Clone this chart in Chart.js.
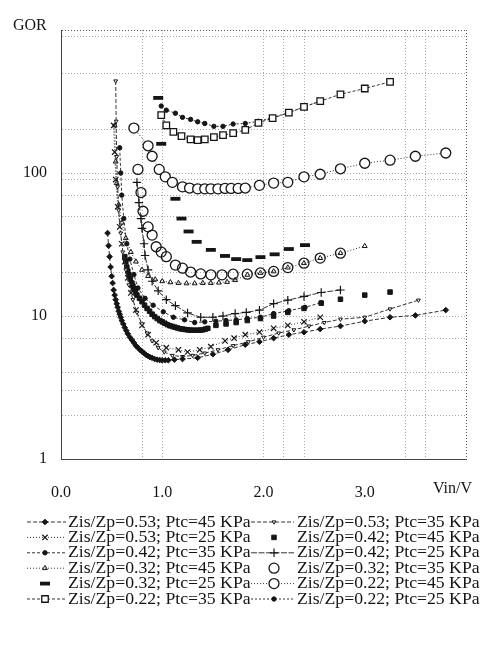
<!DOCTYPE html>
<html>
<head>
<meta charset="utf-8">
<script src="https://cdn.jsdelivr.net/npm/chart.js@4.4.1/dist/chart.umd.min.js"></script>
<style>
  html, body { margin: 0; padding: 0; background: #fff; }
  #wrap { width: 490px; height: 664px; position: relative; }
</style>
</head>
<body>
<div id="wrap"><canvas id="gorChart" width="490" height="664"></canvas></div>
<script>
// GOR vs Vin

// legend labels (row by row, left column first)
const seriesLabels = [
    'Zis/Zp=0.53; Ptc=45 KPa', 'Zis/Zp=0.53; Ptc=35 KPa',
    'Zis/Zp=0.53; Ptc=25 KPa', 'Zis/Zp=0.42; Ptc=45 KPa',
    'Zis/Zp=0.42; Ptc=35 KPa', 'Zis/Zp=0.42; Ptc=25 KPa',
    'Zis/Zp=0.32; Ptc=45 KPa', 'Zis/Zp=0.32; Ptc=35 KPa',
    'Zis/Zp=0.32; Ptc=25 KPa', 'Zis/Zp=0.22; Ptc=45 KPa',
    'Zis/Zp=0.22; Ptc=35 KPa', 'Zis/Zp=0.22; Ptc=25 KPa'
];

const vin_053_45 = [0.46,0.47,0.48,0.49,0.50,0.51,0.52,0.53,0.54,0.55,0.56,0.57,0.58,0.59,0.60,0.615,0.63,0.645,0.66,0.68,0.70,0.72,0.74,0.76,0.78,0.80,0.82,0.84,0.86,0.88,0.90,0.925,0.95,0.975,1.00,1.03,1.06,1.12,1.20,1.35,1.50,1.65,1.82,1.96,2.10,2.25,2.40,2.56,2.76,3.00,3.25,3.50,3.80];
const gor_053_45 = [38,31,26,22,19,17,15.2,14,13,12.2,11.5,10.8,10.3,9.8,9.3,8.8,8.3,7.9,7.5,7.1,6.8,6.5,6.2,6.0,5.8,5.65,5.5,5.35,5.25,5.15,5.1,5.0,4.95,4.92,4.9,4.9,4.9,4.95,5.0,5.1,5.4,5.8,6.3,6.6,7.0,7.4,7.7,8.1,8.5,9.2,9.8,10.1,11];

const vin_053_35 = [0.54,0.545,0.55,0.56,0.57,0.59,0.61,0.64,0.67,0.71,0.75,0.80,0.85,0.90,0.96,1.02,1.10,1.20,1.30,1.42,1.55,1.70,1.85,2.00,2.15,2.30,2.45,2.60,2.76,3.00,3.25,3.53];
const gor_053_35 = [440,230,130,80,55,38,28,21,16.5,13,10.6,8.8,7.6,6.7,6.0,5.6,5.3,5.2,5.3,5.5,5.8,6.2,6.6,7.1,7.6,8.0,8.5,9.0,9.5,9.8,11.2,12.9];

const vin_053_25 = [0.52,0.53,0.54,0.56,0.58,0.60,0.63,0.66,0.69,0.74,0.80,0.86,0.94,1.04,1.16,1.25,1.37,1.48,1.62,1.71,1.82,1.96,2.10,2.24,2.40,2.56];
const gor_053_25 = [215,140,90,58,42,32,24,18.5,14.5,11,8.6,7.4,6.5,6.0,5.8,5.6,5.8,6.1,6.7,7.0,7.4,7.7,8.2,8.6,9.1,9.8];

const vin_042_45 = [0.63,0.64,0.65,0.66,0.67,0.685,0.70,0.71,0.72,0.735,0.75,0.775,0.80,0.825,0.85,0.875,0.90,0.925,0.95,0.975,1.00,1.025,1.05,1.075,1.10,1.125,1.15,1.175,1.20,1.225,1.25,1.275,1.30,1.325,1.35,1.375,1.40,1.425,1.45,1.53,1.63,1.73,1.84,1.97,2.10,2.24,2.40,2.57,2.76,3.00,3.25];
const gor_042_45 = [26,24,22,20.6,19.4,18.2,17,16.2,15.5,14.7,14,13.3,12.6,11.9,11.3,10.8,10.3,9.9,9.6,9.3,9.1,8.9,8.7,8.55,8.45,8.35,8.25,8.15,8.1,8.05,8.0,7.97,7.95,7.95,7.95,7.97,8.0,8.1,8.2,8.6,8.8,9.0,9.3,9.6,10.0,10.6,11.3,12.3,13.1,14.0,14.7];

const vin_042_35 = [0.58,0.59,0.60,0.62,0.65,0.68,0.72,0.76,0.83,0.91,1.01,1.11,1.22,1.32,1.42,1.53,1.63,1.73,1.84,1.97,2.10,2.25,2.41,2.57];
const gor_042_35 = [150,100,70,48,32,25,19.5,15.7,13.3,11.9,10.7,9.8,9.4,9.0,9.1,9.2,9.3,9.4,9.6,9.8,10.4,10.9,11.5,12.4];

const vin_042_25 = [0.75,0.77,0.79,0.80,0.82,0.83,0.86,0.90,0.96,1.04,1.13,1.25,1.38,1.50,1.60,1.72,1.83,1.96,2.10,2.24,2.40,2.57,2.76];
const gor_042_25 = [86,62,48,41,32,26.5,21,17.5,15,13,11.8,10.5,9.8,9.8,10.0,10.4,10.6,11.0,12.2,12.9,13.7,14.6,15.2];

const vin_032_45 = [0.53,0.54,0.55,0.57,0.60,0.64,0.69,0.74,0.80,0.86,0.93,1.00,1.08,1.16,1.24,1.32,1.40,1.48,1.56,1.64,1.72,1.84,1.97,2.10,2.24,2.40,2.56,2.76,3.00];
const gor_032_45 = [215,120,85,60,45,35,28,24,21,19,18,17.5,17.2,17.0,16.9,16.9,17.0,17.0,17.1,17.3,17.8,19.4,20,20.5,21.8,23.4,25.4,27.5,30.8];

const vin_032_35 = [0.76,0.79,0.81,0.86,0.90,0.94,0.99,1.04,1.13,1.20,1.28,1.38,1.48,1.59,1.70,1.84,1.97,2.10,2.24,2.40,2.56,2.76];
const gor_032_35 = [106,73,54,42,36.8,30.5,28,26,22.7,21.6,20.3,19.7,19.4,19.4,19.6,19.6,20,20.5,21.8,23.4,25.4,27.5];

const vin_032_25 = [0.96,0.99,1.13,1.19,1.26,1.34,1.48,1.62,1.73,1.84,1.97,2.11,2.25,2.41];
const gor_032_25 = [335,160,66,48,39,33,29,26.3,25,24.6,25.8,27,29.4,31.3];

const vin_022_45 = [0.72,0.86,0.90,0.97,1.03,1.10,1.20,1.27,1.35,1.42,1.48,1.55,1.62,1.68,1.75,1.82,1.96,2.10,2.24,2.40,2.56,2.76,3.00,3.25,3.50,3.80];
const gor_022_45 = [206,155,131,106,94,86,80,78.5,77.5,77.5,77.5,77.5,78,78,78,78.5,82,85,86,94,98,107,117,123,131,138];

const vin_022_35 = [0.99,1.04,1.11,1.19,1.28,1.35,1.42,1.51,1.60,1.70,1.82,1.95,2.09,2.25,2.40,2.56,2.76,3.00,3.25];
const gor_022_35 = [254,215,194,181,172,170,172,178,184,190,200,224,242,264,290,318,355,390,434];

const vin_022_25 = [0.99,1.04,1.13,1.20,1.28,1.35,1.42,1.51,1.60,1.70,1.82,1.95,2.09,2.25,2.40,2.56];
const gor_022_25 = [294,275,262,245,237,228,222,212,212,220,222,230,245,264,290,318];

// axis ticks / grid positions
const xGrid = [0, 0.8, 1, 2, 2.2, 2.4, 3, 3.4, 3.6, 4];
const xLabelled = [0, 1, 2, 3];
const yGrid = [1, 2, 3, 4, 7, 10, 20, 50, 70, 90, 100, 200, 500, 900, 1000];
const yLabelled = [1, 10, 100];

const INK = '#151515';
const LINE = '#333';
const FONT = '"Liberation Serif", "DejaVu Serif", serif';

function series(label, xs, ys, opts) {
    return Object.assign({
        label: label,
        data: xs.map((x, i) => ({x: x, y: ys[i]})),
        showLine: false,
        borderColor: LINE,
        borderWidth: 1,
        pointBorderColor: INK,
        pointBackgroundColor: INK,
        pointBorderWidth: 1,
        pointRadius: 3,
        tension: 0
    }, opts);
}

const datasets = [
    series(seriesLabels[0], vin_053_45, gor_053_45, {showLine: true, borderDash: [4, 2], pointStyle: 'rectRot', pointRadius: 2.8}),
    series(seriesLabels[1], vin_053_35, gor_053_35, {showLine: true, borderDash: [4, 2], pointStyle: 'triangle', pointRotation: 180, pointRadius: 2.2, pointBackgroundColor: '#fff'}),
    series(seriesLabels[2], vin_053_25, gor_053_25, {showLine: true, borderDash: [1, 2], pointStyle: 'crossRot', pointRadius: 3.8, pointBorderWidth: 1.2}),
    series(seriesLabels[3], vin_042_45, gor_042_45, {pointStyle: 'rect', pointRadius: 3.2}),
    series(seriesLabels[4], vin_042_35, gor_042_35, {showLine: true, borderDash: [3, 2], pointStyle: 'circle', pointRadius: 2.2}),
    series(seriesLabels[5], vin_042_25, gor_042_25, {showLine: true, borderDash: [6, 1.5], pointStyle: 'cross', pointRadius: 4.2, pointBorderWidth: 1.2}),
    series(seriesLabels[6], vin_032_45, gor_032_45, {showLine: true, borderDash: [1, 2], pointStyle: 'triangle', pointRadius: 2.8, pointBackgroundColor: 'rgba(0,0,0,0)'}),
    series(seriesLabels[7], vin_032_35, gor_032_35, {pointStyle: 'circle', pointRadius: 5, pointBackgroundColor: 'rgba(0,0,0,0)', pointBorderWidth: 1.3}),
    series(seriesLabels[8], vin_032_25, gor_032_25, {pointStyle: 'line', pointRadius: 5, pointBorderWidth: 3.8}),
    series(seriesLabels[9], vin_022_45, gor_022_45, {showLine: true, borderDash: [1, 2], pointStyle: 'circle', pointRadius: 5, pointBackgroundColor: '#fff', pointBorderWidth: 1.3}),
    series(seriesLabels[10], vin_022_35, gor_022_35, {showLine: true, borderDash: [3, 2], pointStyle: 'rect', pointRadius: 4.6, pointBackgroundColor: '#fff', pointBorderWidth: 1.3}),
    series(seriesLabels[11], vin_022_25, gor_022_25, {showLine: true, borderDash: [2, 2], pointStyle: 'circle', pointRadius: 2.2})
];

// legend marker, same shapes as the plotted points
function marker(ctx, ds, x, y) {
    const opts = {
        pointStyle: ds.pointStyle || 'circle',
        radius: ds.pointRadius,
        rotation: ds.pointRotation || 0,
        borderWidth: ds.pointBorderWidth
    };
    ctx.fillStyle = ds.pointBackgroundColor;
    ctx.strokeStyle = ds.pointBorderColor;
    ctx.lineWidth = ds.pointBorderWidth;
    if (Chart.helpers && Chart.helpers.drawPoint) {
        Chart.helpers.drawPoint(ctx, opts, x, y);
    } else {
        ctx.beginPath();
        ctx.arc(x, y, ds.pointRadius, 0, Math.PI * 2);
        ctx.fill();
        ctx.stroke();
    }
}

const extraText = {
    id: 'extraText',
    afterDraw(chart) {
        const ctx = chart.ctx;
        ctx.save();
        ctx.fillStyle = INK;
        ctx.textBaseline = 'middle';
        ctx.textAlign = 'left';
        ctx.font = '16px ' + FONT;
        ctx.fillText('GOR', 13, 26);
        ctx.fillText('Vin/V', 433, 489);

        // two-column legend
        const cols = [
            {x1: 27, x2: 66, mx: 45, tx: 68},
            {x1: 251, x2: 294, mx: 274, tx: 297}
        ];
        chart.data.datasets.forEach((ds, i) => {
            const c = cols[i % 2];
            const y = 522 + Math.floor(i / 2) * 15.4;
            if (ds.showLine) {
                ctx.save();
                ctx.strokeStyle = LINE;
                ctx.lineWidth = 1;
                ctx.setLineDash(ds.borderDash || []);
                ctx.beginPath();
                ctx.moveTo(c.x1, y);
                ctx.lineTo(c.x2, y);
                ctx.stroke();
                ctx.restore();
            }
            ctx.save();
            marker(ctx, ds, c.mx, y);
            ctx.restore();
            ctx.font = '17.7px ' + FONT;
            ctx.fillStyle = INK;
            ctx.fillText(ds.label, c.tx, y);
        });
        ctx.restore();
    }
};

const ctx = document.getElementById('gorChart');
const gorChart = new Chart(ctx, {
    type: 'scatter',
    data: { datasets: datasets },
    options: {
        responsive: false,
        animation: false,
        events: [],
        devicePixelRatio: 1,
        layout: { padding: { left: 0, top: 30, right: 21, bottom: 165 } },
        plugins: {
            legend: { display: false },
            tooltip: { enabled: false }
        },
        scales: {
            x: {
                type: 'linear',
                min: 0,
                max: 4,
                afterBuildTicks: (scale) => { scale.ticks = xGrid.map(v => ({value: v})); },
                afterFit: (scale) => { scale.height = 40; },
                ticks: {
                    autoSkip: false,
                    maxRotation: 0,
                    padding: 24,
                    color: INK,
                    font: { family: FONT, size: 16 },
                    callback: (v) => xLabelled.includes(v) ? v.toFixed(1) : ''
                },
                grid: {
                    drawTicks: false,
                    color: (c) => {
                        const v = c.tick ? c.tick.value : null;
                        if (v === 4) return '#555';
                        if (v === 0 || v === 3) return 'rgba(0,0,0,0)';
                        return '#a8a8a8';
                    }
                },
                border: { display: true, color: '#444', dash: [1, 2], width: 1 }
            },
            y: {
                type: 'logarithmic',
                min: 1,
                max: 1000,
                afterBuildTicks: (scale) => { scale.ticks = yGrid.map(v => ({value: v})); },
                afterFit: (scale) => { scale.width = 61; },
                ticks: {
                    autoSkip: false,
                    padding: 14,
                    color: INK,
                    font: { family: FONT, size: 16 },
                    callback: (v) => yLabelled.includes(v) ? String(v) : ''
                },
                grid: {
                    drawTicks: false,
                    color: (c) => {
                        const v = c.tick ? c.tick.value : null;
                        if (v === 1000) return '#555';
                        if (v === 1) return 'rgba(0,0,0,0)';
                        return '#a8a8a8';
                    }
                },
                border: { display: true, color: '#444', dash: [1, 2], width: 1 }
            }
        }
    },
    plugins: [extraText]
});
</script>
</body>
</html>
